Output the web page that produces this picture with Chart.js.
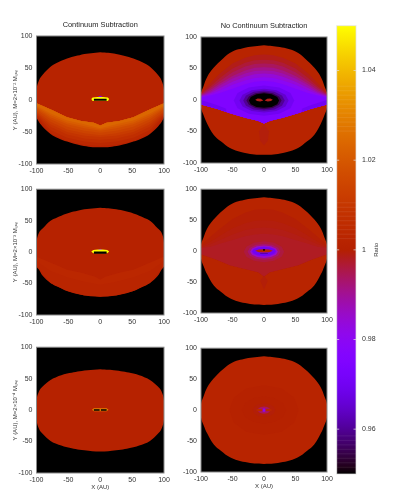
<!DOCTYPE html>
<html>
<head>
<meta charset="utf-8">
<style>
html, body { margin: 0; padding: 0; background: #fff; }
canvas { position: absolute; }
</style>
<script src="https://cdn.jsdelivr.net/npm/chart.js@4"></script>
</head>
<body>
<script>
const axisTicks = [-100, -50, 0, 50, 100];
const barTicks = [0.96, 0.98, 1, 1.02, 1.04];
const barMin = 0.95;
const barMax = 1.05;
// faint stripes in the colour bar
const barStreaks = [1.0365, 1.0355, 1.0345, 1.0335, 1.0325, 1.0315, 1.0305, 1.0295, 1.0285, 1.0275, 1.0265, 1.0105, 1.0095, 1.0085, 1.0075, 1.0065, 1.0055, 1.0045, 1.0035, 1.0025, 0.9585, 0.9575, 0.9565, 0.9555, 0.9545, 0.9535, 0.9525, 0.9515];

// outlines of the discs (AU)
const disc1 = [[0,74.5],[25,72],[52,65],[70,57],[78,52],[90,40],[96,31],[100,16],[100,-25],[97,-33],[91,-41],[78,-53],[65,-60],[52,-65],[30,-71],[0,-74],[-30,-71],[-52,-65],[-65,-60],[-78,-53],[-91,-41],[-97,-33],[-100,-25],[-100,16],[-96,31],[-90,40],[-78,52],[-70,57],[-52,65],[-25,72]];
const disc3 = [[0,70.5],[25,68],[52,61.5],[70,54],[78,50],[90,38],[96,31],[100,15],[100,-22],[96,-28],[90,-38],[78,-49],[65,-56],[52,-62],[30,-68],[0,-71],[-30,-68],[-52,-62],[-65,-56],[-78,-49],[-90,-38],[-96,-28],[-100,-22],[-100,15],[-96,31],[-90,38],[-78,50],[-70,54],[-52,61.5],[-25,68]];
const disc5 = [[0,65],[25,63],[52,58],[70,52],[78,48],[90,38],[96,30],[100,15],[100,-15],[96,-30],[90,-38],[78,-49],[70,-53],[52,-59],[25,-64],[0,-66],[-25,-64],[-52,-59],[-70,-53],[-78,-49],[-90,-38],[-96,-30],[-100,-15],[-100,15],[-96,30],[-90,38],[-78,48],[-70,52],[-52,58],[-25,63]];
const discRound = [[0,87],[25,84],[50,77],[65,66],[80,51],[90,37],[96,22],[100,10],[100,-12],[96,-24],[90,-38],[80,-55],[68,-66],[54,-76],[30,-84],[0,-87],[-30,-84],[-54,-76],[-68,-66],[-80,-55],[-90,-38],[-96,-24],[-100,-12],[-100,10],[-96,22],[-90,37],[-80,51],[-65,66],[-50,77],[-25,84]];

// panel 1: the orange wedge under the V line
const vee1 = [[-100,-5],[-75,-16],[-52,-27],[-30,-33],[-10,-35.5],[0,-40],[10,-35.5],[30,-33],[52,-27],[75,-16],[100,-5]];
const wedge1a = [[100,-25],[78,-52],[52,-64],[25,-70],[0,-72],[-25,-70],[-52,-64],[-78,-52],[-100,-25]];
const wedge1b = [[100,-23],[78,-47],[52,-59],[25,-65],[0,-67],[-25,-65],[-52,-59],[-78,-47],[-100,-23]];
const wedge1c = [[100,-22],[78,-42],[52,-54],[25,-60],[0,-62],[-25,-60],[-52,-54],[-78,-42],[-100,-22]];
const wedge1d = [[100,-20],[78,-38],[52,-50],[25,-56],[0,-58],[-25,-56],[-52,-50],[-78,-38],[-100,-20]];
const wedge1e = [[100,-18],[78,-34],[52,-46],[25,-52],[0,-55],[-25,-52],[-52,-46],[-78,-34],[-100,-18]];
const wedge1f = [[100,-15],[78,-30],[52,-42],[25,-48],[0,-51],[-25,-48],[-52,-42],[-78,-30],[-100,-15]];
const wedge1g = [[100,-13],[78,-27],[52,-38],[25,-44],[0,-48],[-25,-44],[-52,-38],[-78,-27],[-100,-13]];
const wedge1h = [[100,-11],[78,-24],[52,-35],[25,-41],[0,-46],[-25,-41],[-52,-35],[-78,-24],[-100,-11]];
const wedge1i = [[100,-9],[78,-21],[52,-32],[25,-38],[0,-44],[-25,-38],[-52,-32],[-78,-21],[-100,-9]];
const slit1 = [[-14,1.5],[-12,4],[-4,4.5],[4,4.5],[12,4],[14,1.5],[12,-1.5],[-12,-1.5]];
const core1 = [[-10,2],[10,2],[10,-1.3],[-10,-1.3]];
const cap1 = [[-5,4],[-2,6],[0,6.8],[2,6],[5,4]];
const panel1Ratios = [1.0015, 1.004, 1.0065, 1.009, 1.0115, 1.014, 1.0165, 1.019, 1.0215, 1.024, 0.975, 1.05, 0.95];
const panel1Shapes = [disc1, vee1.concat(wedge1a), vee1.concat(wedge1b), vee1.concat(wedge1c), vee1.concat(wedge1d), vee1.concat(wedge1e), vee1.concat(wedge1f), vee1.concat(wedge1g), vee1.concat(wedge1h), vee1.concat(wedge1i), cap1, slit1, core1];

// panel 2: violet dome above the V line, black hole in the middle
const vee2 = [[-100,-7],[-75,-14],[-54,-21],[-30,-28],[-10,-33],[0,-37.5],[10,-33],[30,-28],[54,-21],[75,-14],[100,-7]];
const dome2a = [[100,12],[85,27],[70,42],[50,58],[30,67],[15,71],[0,72],[-15,71],[-30,67],[-50,58],[-70,42],[-85,27],[-100,12]];
const dome2b = [[100,10],[85,22],[70,35],[50,50],[30,59],[15,63],[0,64],[-15,63],[-30,59],[-50,50],[-70,35],[-85,22],[-100,10]];
const dome2c = [[100,9],[85,19],[70,30],[50,44],[30,53],[15,57],[0,58],[-15,57],[-30,53],[-50,44],[-70,30],[-85,19],[-100,9]];
const dome2d = [[100,8],[85,16],[70,26],[50,38],[30,47],[15,51],[0,52],[-15,51],[-30,47],[-50,38],[-70,26],[-85,16],[-100,8]];
const dome2e = [[100,7],[85,13],[70,23],[50,34],[30,42],[15,46],[0,47],[-15,46],[-30,42],[-50,34],[-70,23],[-85,13],[-100,7]];
const dome2f = [[100,6],[85,11],[70,19],[50,29],[30,37],[15,41],[0,42],[-15,41],[-30,37],[-50,29],[-70,19],[-85,11],[-100,6]];
const dome2g = [[100,5],[85,9],[70,15],[50,24],[30,31],[15,35],[0,36],[-15,35],[-30,31],[-50,24],[-70,15],[-85,9],[-100,5]];
const dome2h = [[100,4],[85,7],[70,11],[50,18],[30,25],[15,29],[0,30],[-15,29],[-30,25],[-50,18],[-70,11],[-85,7],[-100,4]];
const edge2 = [[-100,-7],[-75,-14],[-60,-19],[-60,-14],[-75,-8],[-100,0],[-100,-7]];
const edge2r = [[100,-7],[75,-14],[60,-19],[60,-14],[75,-8],[100,0],[100,-7]];
const hole2a = [[48,-1],[42,11],[24,20],[0,23],[-24,20],[-42,11],[-48,-1],[-42,-13],[-24,-22],[0,-25],[24,-22],[42,-13]];
const hole2b = [[39,-1],[34,8.5],[19.5,15.5],[0,18],[-19.5,15.5],[-34,8.5],[-39,-1],[-34,-10.5],[-19.5,-17.5],[0,-20],[19.5,-17.5],[34,-10.5]];
const hole2c = [[33,-1],[28.5,7],[16.5,13],[0,15],[-16.5,13],[-28.5,7],[-33,-1],[-28.5,-9],[-16.5,-15],[0,-17],[16.5,-15],[28.5,-9]];
const hole2d = [[28,-1],[24,5.7],[14,10.7],[0,12.5],[-14,10.7],[-24,5.7],[-28,-1],[-24,-7.7],[-14,-12.7],[0,-14.5],[14,-12.7],[24,-7.7]];
const hole2e = [[24,-1],[21,4.7],[12,9],[0,10.5],[-12,9],[-21,4.7],[-24,-1],[-21,-6.7],[-12,-11],[0,-12.5],[12,-11],[21,-6.7]];
const lobe2l = [[-14,0.5],[-10,2.5],[-5,2],[-1,-1],[-6,-2.5],[-11,-1.5]];
const lobe2r = [[14,0.5],[10,2.5],[5,2],[1,-1],[6,-2.5],[11,-1.5]];
const spine2 = [[0,-38],[8,-50],[6,-65],[0,-72],[-6,-65],[-8,-50]];
const panel2Ratios = [1.002, 0.9993, 0.9985, 0.9965, 0.994, 0.991, 0.988, 0.984, 0.98, 0.975, 0.97, 0.97, 0.97, 0.965, 0.96, 0.955, 0.95, 0.9985, 0.9985];
const panel2Shapes = [discRound, spine2, vee2.concat(dome2a), vee2.concat(dome2b), vee2.concat(dome2c), vee2.concat(dome2d), vee2.concat(dome2e), vee2.concat(dome2f), vee2.concat(dome2g), vee2.concat(dome2h), edge2, edge2r, hole2a, hole2b, hole2c, hole2d, hole2e, lobe2l, lobe2r];

// panel 3
const vee3 = [[-100,-7.5],[-75,-18],[-52,-28],[-30,-33],[-8,-39],[0,-44],[8,-39],[30,-33],[52,-28],[75,-18],[100,-7.5]];
const wedge3a = [[100,-22],[78,-49],[52,-62],[25,-69],[0,-71],[-25,-69],[-52,-62],[-78,-49],[-100,-22]];
const wedge3b = [[100,-14],[78,-30],[52,-40],[25,-47],[0,-52],[-25,-47],[-52,-40],[-78,-30],[-100,-14]];
const slit3 = [[-14,1],[-11,3.5],[-4,4],[4,4],[11,3.5],[14,1],[11,-2],[-11,-2]];
const core3 = [[-10,1],[10,1],[10,-2.5],[-10,-2.5]];
const cap3 = [[-4,3.5],[0,5.5],[4,3.5]];
const panel3Ratios = [1.001, 1.0025, 1.0035, 0.975, 1.05, 0.95];
const panel3Shapes = [disc3, vee3.concat(wedge3a), vee3.concat(wedge3b), cap3, slit3, core3];

// panel 4: same as panel 2 but much weaker
const vee4 = [[-100,-5],[-75,-14],[-54,-23],[-30,-29],[-9,-34],[0,-41],[9,-34],[30,-29],[54,-23],[75,-14],[100,-5]];
const dome4a = [[100,10],[85,23],[70,36],[50,52],[30,62],[15,67],[0,68],[-15,67],[-30,62],[-50,52],[-70,36],[-85,23],[-100,10]];
const dome4b = [[100,8],[85,15],[70,25],[50,37],[30,45],[15,49],[0,50],[-15,49],[-30,45],[-50,37],[-70,25],[-85,15],[-100,8]];
const dome4c = [[100,6],[85,11],[70,18],[50,27],[30,34],[15,37],[0,38],[-15,37],[-30,34],[-50,27],[-70,18],[-85,11],[-100,6]];
const dome4d = [[100,5],[85,7],[70,12],[50,18],[30,24],[15,27],[0,28],[-15,27],[-30,24],[-50,18],[-70,12],[-85,7],[-100,5]];
const spine4 = [[0,-40],[6,-48],[0,-62],[-6,-48]];
const halo4a = [[32,-1],[28,7],[16,13.5],[0,16],[-16,13.5],[-28,7],[-32,-1],[-28,-9],[-16,-15.5],[0,-18],[16,-15.5],[28,-9]];
const halo4b = [[26,-1],[22.5,5.5],[13,10.3],[0,12],[-13,10.3],[-22.5,5.5],[-26,-1],[-22.5,-7.5],[-13,-12.3],[0,-14],[13,-12.3],[22.5,-7.5]];
const halo4c = [[22,-1],[19,4],[11,7.7],[0,9],[-11,7.7],[-19,4],[-22,-1],[-19,-6],[-11,-9.7],[0,-11],[11,-9.7],[19,-6]];
const halo4d = [[19,-0.5],[16.5,3.2],[9.5,6],[0,7],[-9.5,6],[-16.5,3.2],[-19,-0.5],[-16.5,-4.2],[-9.5,-7],[0,-8],[9.5,-7],[16.5,-4.2]];
const lobe4 = [[-14,0.5],[-8,2.5],[0,3],[8,2.5],[14,0.5],[8,-1.8],[0,-2.2],[-8,-1.8]];
const dot4 = [[-2,3],[2,3],[1,0.5],[-1,0.5]];
const under4 = [[-6,-3],[6,-3],[6,-4.2],[-6,-4.2]];
const panel4Ratios = [1.002, 0.9995, 0.9997, 0.9992, 0.9986, 0.9978, 0.996, 0.993, 0.985, 0.97, 1.002, 0.95, 0.96];
const panel4Shapes = [discRound, spine4, vee4.concat(dome4a), vee4.concat(dome4b), vee4.concat(dome4c), vee4.concat(dome4d), halo4a, halo4b, halo4c, halo4d, lobe4, dot4, under4];

// panel 5
const ring5 = [[-13,0.5],[-10,3],[10,3],[13,0.5],[10,-2],[-10,-2]];
const bar5l = [[-10,1.2],[-1,1.2],[-1,-1.2],[-10,-1.2]];
const bar5r = [[1,1.2],[10,1.2],[10,-1.2],[1,-1.2]];
const panel5Ratios = [1.001, 1.03, 0.95, 0.95];
const panel5Shapes = [disc5, ring5, bar5l, bar5r];

// panel 6
const halo6a = [[55,0],[48,20],[28,35],[0,40],[-28,35],[-48,20],[-55,0],[-48,-20],[-28,-35],[0,-40],[28,-35],[48,-20]];
const halo6b = [[35,0],[30,11],[17.5,19],[0,22],[-17.5,19],[-30,11],[-35,0],[-30,-11],[-17.5,-19],[0,-22],[17.5,-19],[30,-11]];
const halo6c = [[18,0],[15.6,5.5],[9,9.5],[0,11],[-9,9.5],[-15.6,5.5],[-18,0],[-15.6,-5.5],[-9,-9.5],[0,-11],[9,-9.5],[15.6,-5.5]];
const halo6d = [[10,0],[8.7,3],[5,5.2],[0,6],[-5,5.2],[-8.7,3],[-10,0],[-8.7,-3],[-5,-5.2],[0,-6],[5,-5.2],[8.7,-3]];
const lobe6l = [[-13,0],[-9,2],[-4,1.5],[-2,0],[-4,-1.5],[-9,-2]];
const lobe6r = [[13,0],[9,2],[4,1.5],[2,0],[4,-1.5],[9,-2]];
const cross6 = [[-2,2.5],[2,2.5],[2,-2.5],[-2,-2.5]];
const panel6Ratios = [1.002, 1.0012, 1.0005, 0.9995, 0.994, 1.004, 1.004, 0.98];
const panel6Shapes = [discRound, halo6a, halo6b, halo6c, halo6d, lobe6l, lobe6r, cross6];

const rowLabels = ['Y (AU), M=2×10⁻² Mₛᵤₙ', 'Y (AU), M=2×10⁻³ Mₛᵤₙ', 'Y (AU), M=2×10⁻⁴ Mₛᵤₙ'];
const columnTitles = ['Continuum Subtraction', 'No Continuum Subtraction'];
const xLabel = 'X (AU)';
const barLabel = 'Ratio';

const textColor = '#333';
const fontFace = '"Liberation Sans", Arial, sans-serif';

// gnuplot's default 7,5,15 palette
function ratioColor(r) {
    const t = Math.min(1, Math.max(0, (r - barMin) / (barMax - barMin)));
    const red = Math.sqrt(t) * 255;
    const green = t * t * t * 255;
    const blue = Math.max(0, Math.sin(2 * Math.PI * t)) * 255;
    return 'rgb(' + Math.round(red) + ',' + Math.round(green) + ',' + Math.round(blue) + ')';
}

const framePlugin = {
    id: 'frame',
    beforeDatasetsDraw(chart) {
        const a = chart.chartArea;
        chart.ctx.fillStyle = '#000';
        chart.ctx.fillRect(a.left, a.top, a.width, a.height);
    },
    afterDatasetsDraw(chart) {
        const a = chart.chartArea;
        chart.ctx.strokeStyle = '#8a8a8a';
        chart.ctx.lineWidth = 1;
        chart.ctx.strokeRect(a.left, a.top, a.width, a.height);
    }
};

function tickScale(values, padding) {
    return {
        type: 'linear',
        min: -100,
        max: 100,
        grid: { display: false, drawTicks: false },
        border: { display: false },
        afterBuildTicks(scale) { scale.ticks = values.map(v => ({ value: v })); },
        ticks: {
            autoSkip: false,
            maxRotation: 0,
            padding: padding,
            color: textColor,
            font: { family: fontFace, size: 7 },
            callback: v => String(v)
        }
    };
}

function drawPanel(ratios, shapes, box, col, row) {
    const yWidth = col === 0 ? box.left : 33;
    const rightRoom = 12;
    const xHeight = 18;
    const titleRoom = row === 0 ? 20 : 6;
    const canvas = document.createElement('canvas');
    canvas.width = yWidth + box.width + rightRoom;
    canvas.height = titleRoom + box.height + xHeight;
    canvas.style.left = (box.left - yWidth) + 'px';
    canvas.style.top = (box.top - titleRoom) + 'px';
    document.body.appendChild(canvas);

    const xScale = tickScale(axisTicks, 2.5);
    xScale.afterFit = scale => { scale.height = xHeight; };
    if (row === 2) {
        xScale.title = { display: true, text: xLabel, color: textColor, font: { family: fontFace, size: 6 }, padding: 0 };
    }
    const yScale = tickScale(axisTicks, 4);
    yScale.afterFit = scale => { scale.width = yWidth; };
    if (col === 0) {
        yScale.title = { display: true, text: rowLabels[row], color: textColor, font: { family: fontFace, size: 6 }, padding: { top: 12, bottom: 0 } };
    }

    new Chart(canvas, {
        type: 'scatter',
        data: {
            datasets: shapes.map((shape, i) => ({
                data: shape.map(p => ({ x: p[0], y: p[1] })),
                showLine: true,
                fill: 'shape',
                borderWidth: 0,
                pointRadius: 0,
                // only the outer outline is a smooth curve, the V lines keep their corners
                tension: i === 0 ? 0.4 : 0,
                backgroundColor: ratioColor(ratios[i]),
                order: shapes.length - i
            }))
        },
        options: {
            responsive: false,
            animation: false,
            devicePixelRatio: 1,
            layout: { padding: { left: 0, right: rightRoom, top: row === 0 ? 0 : titleRoom, bottom: 0 } },
            scales: { x: xScale, y: yScale },
            plugins: {
                legend: { display: false },
                tooltip: { enabled: false },
                title: {
                    display: row === 0,
                    // not full width, so it centres over the plot
                    fullSize: false,
                    text: columnTitles[col],
                    color: '#222',
                    font: { family: fontFace, size: 7.4, weight: 'normal' },
                    padding: { top: 4.8, bottom: 6.3 }
                }
            }
        },
        plugins: [framePlugin]
    });
}

const boxLeft = { left: 36.5, width: 128 };
const boxRight = { left: 200.7, width: 126 };
const rowsLeft = [{ top: 36, height: 128 }, { top: 186.5, height: 128 }, { top: 345, height: 128 }];
const rowsRight = [{ top: 37.3, height: 126 }, { top: 187.3, height: 126 }, { top: 346, height: 126 }];

drawPanel(panel1Ratios, panel1Shapes, { ...boxLeft, ...rowsLeft[0] }, 0, 0);
drawPanel(panel2Ratios, panel2Shapes, { ...boxRight, ...rowsRight[0] }, 1, 0);
drawPanel(panel3Ratios, panel3Shapes, { ...boxLeft, ...rowsLeft[1] }, 0, 1);
drawPanel(panel4Ratios, panel4Shapes, { ...boxRight, ...rowsRight[1] }, 1, 1);
drawPanel(panel5Ratios, panel5Shapes, { ...boxLeft, ...rowsLeft[2] }, 0, 2);
drawPanel(panel6Ratios, panel6Shapes, { ...boxRight, ...rowsRight[2] }, 1, 2);

// colour bar on the right
const barCanvas = document.createElement('canvas');
barCanvas.width = 64;
barCanvas.height = 470;
barCanvas.style.left = '336px';
barCanvas.style.top = '15px';
document.body.appendChild(barCanvas);

const barFrame = {
    id: 'barFrame',
    afterDatasetsDraw(chart) {
        const a = chart.chartArea;
        const c = chart.ctx;
        const y = chart.scales.y;
        c.strokeStyle = 'rgba(255,255,255,0.08)';
        c.lineWidth = 1;
        barStreaks.forEach(v => {
            const p = y.getPixelForValue(v);
            c.beginPath();
            c.moveTo(a.left, p); c.lineTo(a.right, p);
            c.stroke();
        });
        c.strokeStyle = 'rgba(225,225,225,0.7)';
        c.strokeRect(a.left, a.top, a.width, a.height);
        barTicks.forEach(v => {
            const p = y.getPixelForValue(v);
            c.beginPath();
            c.moveTo(a.left, p); c.lineTo(a.left + 2.5, p);
            c.moveTo(a.right - 2.5, p); c.lineTo(a.right, p);
            c.stroke();
        });
        c.save();
        c.translate(40.5, y.getPixelForValue(1));
        c.rotate(-Math.PI / 2);
        c.fillStyle = textColor;
        c.font = '6px ' + fontFace;
        c.textAlign = 'center';
        c.textBaseline = 'middle';
        c.fillText(barLabel, 0, 0);
        c.restore();
    }
};

new Chart(barCanvas, {
    type: 'bar',
    data: {
        labels: [barLabel],
        datasets: [{
            data: [[barMin, barMax]],
            barPercentage: 1,
            categoryPercentage: 1,
            borderWidth: 0,
            backgroundColor(ctx) {
                const a = ctx.chart.chartArea;
                if (!a) return '#000';
                const g = ctx.chart.ctx.createLinearGradient(0, a.bottom, 0, a.top);
                for (let i = 0; i <= 64; i++) {
                    g.addColorStop(i / 64, ratioColor(barMin + (barMax - barMin) * i / 64));
                }
                return g;
            }
        }]
    },
    options: {
        responsive: false,
        animation: false,
        devicePixelRatio: 1,
        layout: { padding: { left: 0.7, top: 10.7, right: 0, bottom: 11 } },
        scales: {
            x: { display: false },
            y: {
                position: 'right',
                min: barMin,
                max: barMax,
                grid: { display: false, drawTicks: false },
                border: { display: false },
                afterBuildTicks(scale) { scale.ticks = barTicks.map(v => ({ value: v })); },
                afterFit(scale) { scale.width = 44; },
                ticks: {
                    autoSkip: false,
                    padding: 6,
                    color: textColor,
                    font: { family: fontFace, size: 7 },
                    callback: v => String(v)
                }
            }
        },
        plugins: { legend: { display: false }, tooltip: { enabled: false } }
    },
    plugins: [barFrame]
});
</script>
</body>
</html>
